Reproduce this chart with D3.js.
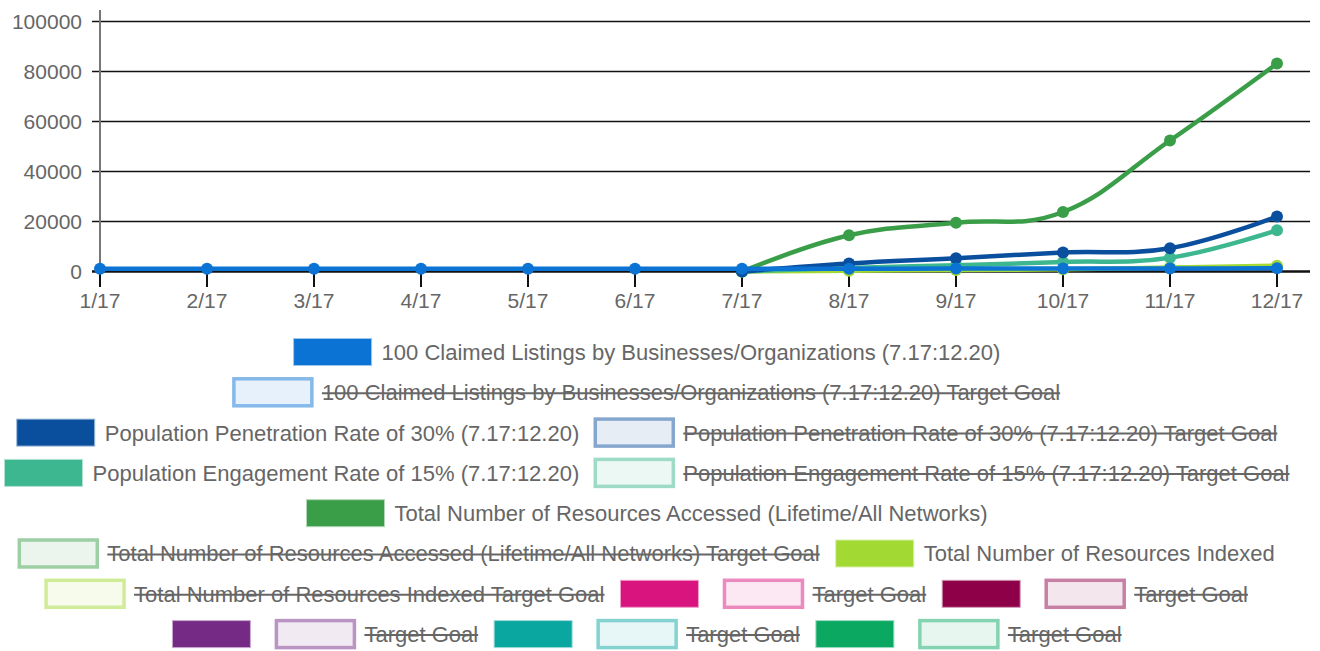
<!DOCTYPE html>
<html>
<head>
<meta charset="utf-8">
<script src="https://cdn.jsdelivr.net/npm/d3@7"></script>
<style>
  html, body { margin: 0; padding: 0; background: #fff; }
  svg { display: block; font-family: "Liberation Sans", Arial, sans-serif; }
</style>
</head>
<body>
<svg id="chart" width="1320" height="651"></svg>
<script>
const months = ["1/17", "2/17", "3/17", "4/17", "5/17", "6/17", "7/17", "8/17", "9/17", "10/17", "11/17", "12/17"];
const yTicks = [0, 20000, 40000, 60000, 80000, 100000];

// valori
const claimed     = [1100, 1100, 1100, 1100, 1100, 1100, 1100, 1100, 1200, 1200, 1200, 1300];
const penetration = [null, null, null, null, null, null, 0, 3200, 5300, 7600, 9300, 22000];
const engagement  = [null, null, null, null, null, null, 0, 1400, 2500, 3800, 5500, 16500];
const accessed    = [null, null, null, null, null, null, 0, 14500, 19500, 23800, 52400, 83200];
const indexed     = [null, null, null, null, null, null, 0, 300, 600, 900, 1600, 2300];

const seriesData = [claimed, penetration, engagement, accessed, indexed];
const seriesColors = ["#0b73d4", "#0a4f9d", "#3db78f", "#3a9d48", "#a3d933"];

const legendLabels = [
  "100 Claimed Listings by Businesses/Organizations (7.17:12.20)",
  "100 Claimed Listings by Businesses/Organizations (7.17:12.20) Target Goal",
  "Population Penetration Rate of 30% (7.17:12.20)",
  "Population Penetration Rate of 30% (7.17:12.20) Target Goal",
  "Population Engagement Rate of 15% (7.17:12.20)",
  "Population Engagement Rate of 15% (7.17:12.20) Target Goal",
  "Total Number of Resources Accessed (Lifetime/All Networks)",
  "Total Number of Resources Accessed (Lifetime/All Networks) Target Goal",
  "Total Number of Resources Indexed",
  "Total Number of Resources Indexed Target Goal",
  "", "Target Goal", "", "Target Goal", "", "Target Goal", "", "Target Goal", "", "Target Goal"
];
const legendColors = ["#0b73d4", "#0a4f9d", "#3db78f", "#3a9d48", "#a3d933",
                      "#d9147f", "#8e0047", "#752a86", "#0aa6a0", "#0ba862"];

const svg = d3.select("#chart");
const textColor = "#666";

const x = d3.scalePoint().domain(months).range([100, 1277]);
const y = d3.scaleLinear().domain([0, 100000]).range([271.5, 21.5]);

// griglia orizzontale
svg.append("g").selectAll("line")
  .data(yTicks)
  .join("line")
  .attr("x1", 92).attr("x2", 1310)
  .attr("y1", d => y(d)).attr("y2", d => y(d))
  .attr("stroke", "#111")
  .attr("stroke-width", d => d === 0 ? 2.5 : 1.5);

// asse y
svg.append("line")
  .attr("x1", 100).attr("x2", 100)
  .attr("y1", 10).attr("y2", y(0))
  .attr("stroke", "#777").attr("stroke-width", 2);

svg.append("g").selectAll("text")
  .data(yTicks)
  .join("text")
  .attr("x", 82)
  .attr("y", d => y(d))
  .attr("dy", "0.36em")
  .attr("text-anchor", "end")
  .attr("font-size", 21)
  .attr("fill", textColor)
  .text(d => d);

// tacche e etichette asse x
svg.append("g").selectAll("line")
  .data(months)
  .join("line")
  .attr("x1", d => x(d)).attr("x2", d => x(d))
  .attr("y1", y(0)).attr("y2", 287)
  .attr("stroke", "#111").attr("stroke-width", 2);

svg.append("g").selectAll("text")
  .data(months)
  .join("text")
  .attr("x", d => x(d))
  .attr("y", 308)
  .attr("text-anchor", "middle")
  .attr("font-size", 21)
  .attr("fill", textColor)
  .text(d => d);

// linee: la prima serie va disegnata sopra
const line = d3.line()
  .defined(d => d != null)
  .x((d, i) => x(months[i]))
  .y(d => y(d))
  .curve(d3.curveCardinal.tension(-0.2));

const order = d3.range(seriesData.length).reverse();
order.forEach(si => {
  const vals = seriesData[si];
  const g = svg.append("g");
  g.append("path")
    .attr("d", line(vals))
    .attr("fill", "none")
    .attr("stroke", seriesColors[si])
    .attr("stroke-width", 4.5);
  g.selectAll("circle")
    .data(vals.map((v, i) => ({ v, m: months[i] })).filter(d => d.v != null))
    .join("circle")
    .attr("cx", d => x(d.m))
    .attr("cy", d => y(d.v))
    .attr("r", 6)
    .attr("fill", seriesColors[si]);
});

// legenda
const boxW = 78, boxH = 27, textGap = 10, itemGap = 16, maxRow = 1300;
const legendFont = 22;
const legendItems = legendLabels.map((label, i) => {
  const base = legendColors[Math.floor(i / 2)];
  const target = i % 2 === 1;
  return { label, base, target };
});

const legend = svg.append("g");
const itemsG = legend.selectAll("g.item")
  .data(legendItems)
  .join("g")
  .attr("class", "item");

itemsG.append("rect")
  .attr("width", boxW).attr("height", boxH)
  .attr("fill", d => d.target ? d3.interpolateRgb(d.base, "#fff")(0.9) : d.base)
  .attr("stroke", d => d3.interpolateRgb(d.base, "#fff")(d.target ? 0.5 : 0.6))
  .attr("stroke-width", d => d.target ? 3.5 : 1);

itemsG.append("text")
  .attr("x", boxW + textGap)
  .attr("y", boxH / 2)
  .attr("dy", "0.36em")
  .attr("font-size", legendFont)
  .attr("fill", textColor)
  .text(d => d.label);

itemsG.each(function (d) {
  const t = d3.select(this).select("text").node();
  d.tw = d.label ? t.getComputedTextLength() : 0;
  d.w = boxW + textGap + d.tw;
});

// righe come Chart.js
const rows = [];
let cur = [], curW = 0;
legendItems.forEach(d => {
  const add = cur.length ? itemGap + d.w : d.w;
  if (cur.length && curW + add > maxRow) {
    rows.push({ items: cur, w: curW });
    cur = []; curW = 0;
  }
  curW += cur.length ? itemGap + d.w : d.w;
  cur.push(d);
});
rows.push({ items: cur, w: curW });

const centerX = 647, rowTop = 352, rowStep = 40.3;
rows.forEach((r, ri) => {
  let px = centerX - r.w / 2;
  r.items.forEach(d => {
    d.x = px;
    d.y = rowTop + ri * rowStep - boxH / 2;
    px += d.w + itemGap;
  });
});

itemsG.attr("transform", d => `translate(${d.x},${d.y})`);

// barrato per le serie nascoste
itemsG.filter(d => d.target && d.label)
  .append("line")
  .attr("x1", boxW + textGap).attr("x2", d => boxW + textGap + d.tw)
  .attr("y1", boxH / 2 + 1).attr("y2", boxH / 2 + 1)
  .attr("stroke", textColor).attr("stroke-width", 2);
</script>
</body>
</html>
